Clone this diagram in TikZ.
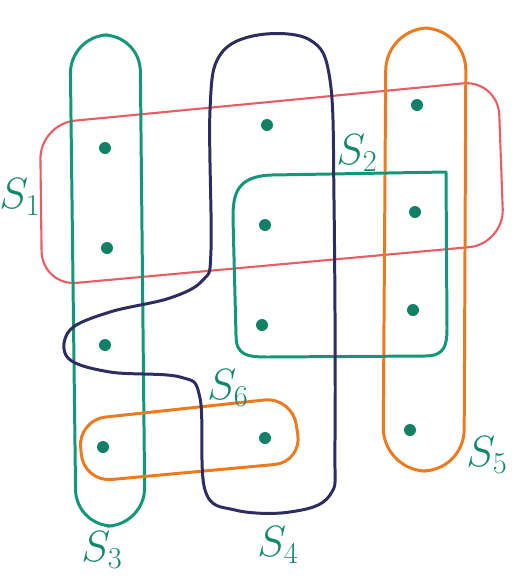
\documentclass[tikz,border=0pt]{standalone}
\usepackage{amsmath}
\usepackage{tikz}
\usetikzlibrary{shapes,positioning,calc}

\definecolor{setgreen}{RGB}{20,150,120}
\definecolor{setorange}{RGB}{236,122,32}
\definecolor{setred}{RGB}{232,92,100}
\definecolor{setnavy}{RGB}{45,45,95}

\begin{document}
\begin{tikzpicture}[x=0.02cm, y=-0.02cm,
    dot/.style={circle, fill=setgreen!85!black, inner sep=0pt, minimum size=0.24cm},
    setlabel/.style={text=setgreen!90!black, font=\fontsize{26}{30}\selectfont},
    setline/.style={line width=1.7pt, line join=round}]
    \useasboundingbox (0,0) rectangle (523,582);

    % the elements
    \node[dot] (a1) at (105,148) {};
    \node[dot] (a2) at (107,248) {};
    \node[dot] (a3) at (105,345) {};
    \node[dot] (a4) at (103,447) {};
    \node[dot] (b1) at (267,125) {};
    \node[dot] (b2) at (265,225) {};
    \node[dot] (b3) at (262,325) {};
    \node[dot] (b4) at (265,438) {};
    \node[dot] (c1) at (417,105) {};
    \node[dot] (c2) at (415,212) {};
    \node[dot] (c3) at (413,310) {};
    \node[dot] (c4) at (410,430) {};

    % S1
    \draw[setred, line width=1.2pt, rounded corners=0.7cm]
        (40,124) -- (498,80) -- (504,244) -- (42,286) -- cycle;
    % S3
    \draw[setgreen, setline, rounded corners=0.75cm]
        (70,36) -- (140,34) -- (145,525) -- (76,527) -- cycle;
    % S5
    \draw[setorange, setline, rounded corners=0.85cm]
        (386,28) -- (466,28) -- (464,472) -- (383,470) -- cycle;
    % S2
    \draw[setgreen, setline] (446,172) -- (272,175) .. controls (236,176) and (233,195) .. (233,218)
        -- (236,335) .. controls (236,355) and (246,357) .. (268,357)
        -- (425,356) .. controls (445,356) and (447,345) .. (447,328) -- cycle;
    % S6
    \draw[setorange, setline, rounded corners=0.55cm]
        (78,420) -- (292,397) -- (302,462) -- (84,482) -- cycle;
    % S4
    \draw[setnavy, setline] plot[smooth cycle, tension=0.6] coordinates
        {(258,35) (220,55) (210,110) (211,250) (203,280) (170,298) (110,312) (70,330) (68,358) (110,372) (180,377)
         (200,398) (205,490) (235,510) (290,512) (330,495) (335,440) (334,200) (330,80) (310,40)};

    % labels
    \node[setlabel] (l1) at (20,197) {$S_1$};
    \node[setlabel] (l2) at (357,153) {$S_2$};
    \node[setlabel] (l3) at (102,550) {$S_3$};
    \node[setlabel] (l4) at (278,545) {$S_4$};
    \node[setlabel] (l5) at (487,455) {$S_5$};
    \node[setlabel] (l6) at (228,388) {$S_6$};
\end{tikzpicture}
\end{document}
